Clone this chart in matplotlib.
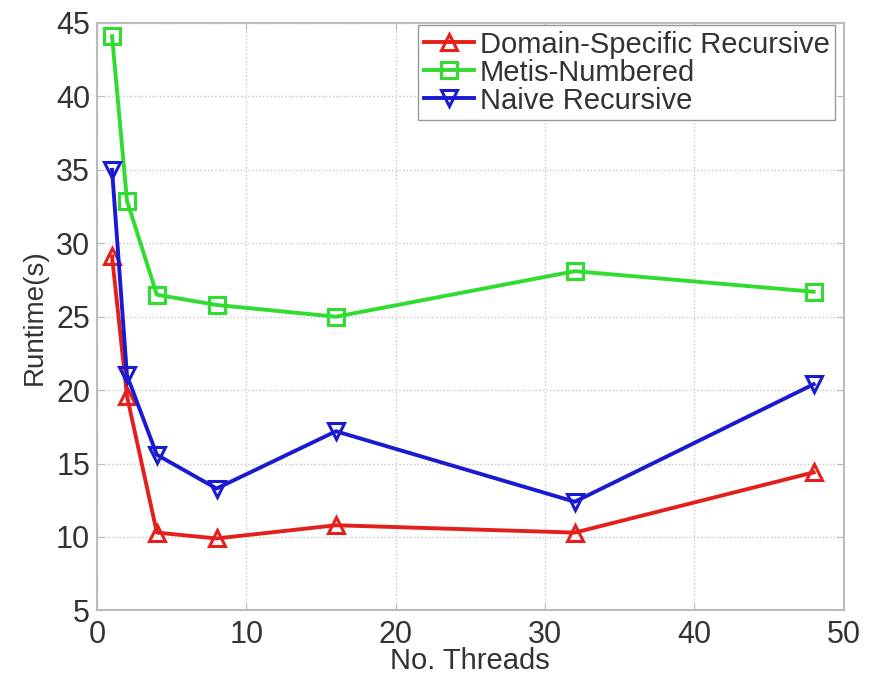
import matplotlib
matplotlib.use("Agg")
import matplotlib.pyplot as plt

plt.rcParams['font.family'] = ['Liberation Sans', 'DejaVu Sans']

threads = [1, 2, 4, 8, 16, 32, 48]
domain_specific = [29.1, 19.6, 10.3, 9.9, 10.8, 10.3, 14.4]
metis_numbered = [44.1, 32.9, 26.5, 25.8, 25.0, 28.1, 26.7]
naive_recursive = [35.0, 21.0, 15.6, 13.3, 17.2, 12.4, 20.4]

fig = plt.figure(figsize=(8.75, 6.76), dpi=100)
ax = fig.add_axes([0.111, 0.097, 0.853, 0.869])

ax.plot(threads, domain_specific, color='#e3201c', marker='^', markersize=12,
        markerfacecolor='none', markeredgewidth=2.2, linewidth=2.8,
        label='Domain-Specific Recursive')
ax.plot(threads, metis_numbered, color='#2fdc2f', marker='s', markersize=11,
        markerfacecolor='none', markeredgewidth=2.2, linewidth=2.8,
        label='Metis-Numbered')
ax.plot(threads, naive_recursive, color='#1a1ad0', marker='v', markersize=12,
        markerfacecolor='none', markeredgewidth=2.2, linewidth=2.8,
        label='Naive Recursive')

ax.set_xlim(0, 50)
ax.set_ylim(5, 45)
ax.set_xticks(range(0, 51, 10))
ax.set_yticks(range(5, 46, 5))
ax.grid(True, linestyle=':', color='#c8c8c8', linewidth=1)
ax.tick_params(direction='in', top=True, right=True, labelsize=22,
               colors='#bbbbbb', labelcolor='#333333', length=5)
ax.tick_params(axis='x', pad=7)
ax.tick_params(axis='y', pad=5)
for s in ax.spines.values():
    s.set_color('#bbbbbb')
    s.set_linewidth(1.5)

ax.set_xlabel('No. Threads', fontsize=21, color='#333333', labelpad=-2.5)
ax.set_ylabel('Runtime(s)', fontsize=20, color='#333333', labelpad=6)

leg = ax.legend(loc='upper right', bbox_to_anchor=(0.989, 0.997), fontsize=21,
                fancybox=False, edgecolor='#999999', framealpha=1,
                handlelength=1.7, handletextpad=0.2, borderpad=0.2,
                labelspacing=0.0, borderaxespad=0)
for t in leg.get_texts():
    t.set_color('#333333')

fig.savefig('out.png', dpi=100)
